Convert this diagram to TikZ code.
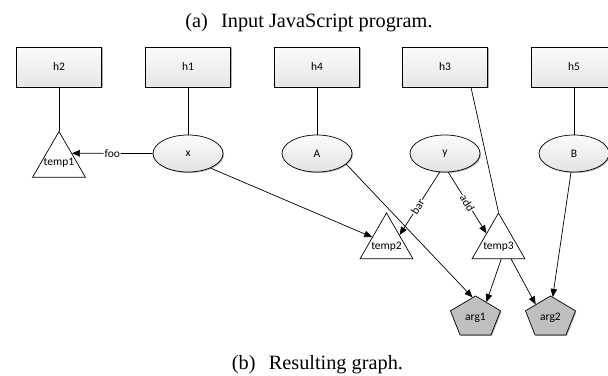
\documentclass[tikz,border=0pt]{standalone}
\usepackage{fontspec}
\setmainfont{Liberation Serif}
\newfontfamily\lblfont{Carlito}
\usetikzlibrary{shapes.geometric,arrows.meta,shadows}

\begin{document}
\begin{tikzpicture}[x=1pt,y=1pt,
  every node/.style={font=\lblfont\fontsize{11.5}{13}\selectfont},
  softshadow/.style={drop shadow={shadow xshift=1pt, shadow yshift=-1pt, opacity=0.3, fill=black}},
  heap/.style={rectangle, draw=black, line width=0.7pt, minimum width=85pt, minimum height=40pt,
    top color=gray!3, bottom color=gray!20, softshadow},
  var/.style={ellipse, draw=black, line width=0.7pt, minimum width=70pt, minimum height=37pt,
    inner sep=0pt, top color=gray!3, bottom color=gray!22, softshadow},
  tmp/.style={regular polygon, regular polygon sides=3, draw=black, fill=white,
    minimum size=61pt, inner sep=0pt, line width=0.7pt},
  argsh/.style={regular polygon, regular polygon sides=5, draw=black, fill=gray!50,
    minimum size=52.6pt, inner sep=0pt, yscale=0.82, line width=0.7pt, softshadow},
  caption/.style={anchor=base, font=\rmfamily\fontsize{20.3}{24}\selectfont},
  link/.style={line width=0.7pt},
  flow/.style={link, -{Triangle[length=8pt,width=6.5pt]}},
  lab/.style={midway, sloped, fill=white, inner sep=0.5pt}
]
\useasboundingbox (0,0) rectangle (608,-375);
\clip (0,0) rectangle (608,-375);

% captions
\node[caption] (capa) at (309,-27) {(a)\hspace{0.4em} Input JavaScript program.};
\node[caption] (capb) at (317.5,-369) {(b)\hspace{0.4em} Resulting graph.};

% heap objects
\node[heap] (h2) at (59,-67)  {h2};
\node[heap] (h1) at (188,-67) {h1};
\node[heap] (h4) at (317,-67) {h4};
\node[heap] (h3) at (445,-67) {h3};
\node[heap] (h5) at (574,-67) {h5};

% variables
\node[var] (vx) at (188,-153.5) {x};
\node[var] (vA) at (317,-153.5) {A};
\node[var] (vy) at (445,-153.5) {y};
\node[var] (vB) at (574,-153.5) {B};

% temporaries (outline first, name set just below the centre)
\node[tmp] (temp1) at (59,-162) {};
\node (temp1txt) at ([yshift=-1pt]temp1.center) {temp1};
\node[tmp] (temp2) at (386.5,-243.5) {};
\node (temp2txt) at ([yshift=-3pt]temp2.center) {temp2};
\node[tmp] (temp3) at (498.5,-243.5) {};
\node (temp3txt) at ([yshift=-3pt]temp3.center) {temp3};

% arguments
\node[argsh] (arg1) at (475.5,-317.5) {};
\node (arg1txt) at (arg1) {arg1};
\node[argsh] (arg2) at (550.5,-317.5) {};
\node (arg2txt) at (arg2) {arg2};

% points-to edges
\draw[link] (h2.south) -- (temp1.corner 1);
\draw[link] (h1.south) -- (vx.north);
\draw[link] (h4.south) -- (vA.north);
\draw[link] ([xshift=26pt]h3.south) -- (temp3.corner 1);
\draw[link] (h5.south) -- (vB.north);

% flow edges
\draw[flow] (vx.west) -- node[lab]{foo} (temp1.34);
\draw[flow] (vx.-33) -- (temp2.156);
\draw[flow] (vA.-20) -- (arg1.97);
\draw[flow] (vy.-106) -- node[lab,pos=0.55]{bar} (temp2.33);
\draw[flow] (vy.-80) -- node[lab]{add} (temp3.140);
\draw[flow] (temp3.-80) -- (arg1.60);
\draw[flow] (temp3.-51) -- (arg2.133);
\draw[flow] (vB.-99) -- (arg2.85);
\end{tikzpicture}
\end{document}
